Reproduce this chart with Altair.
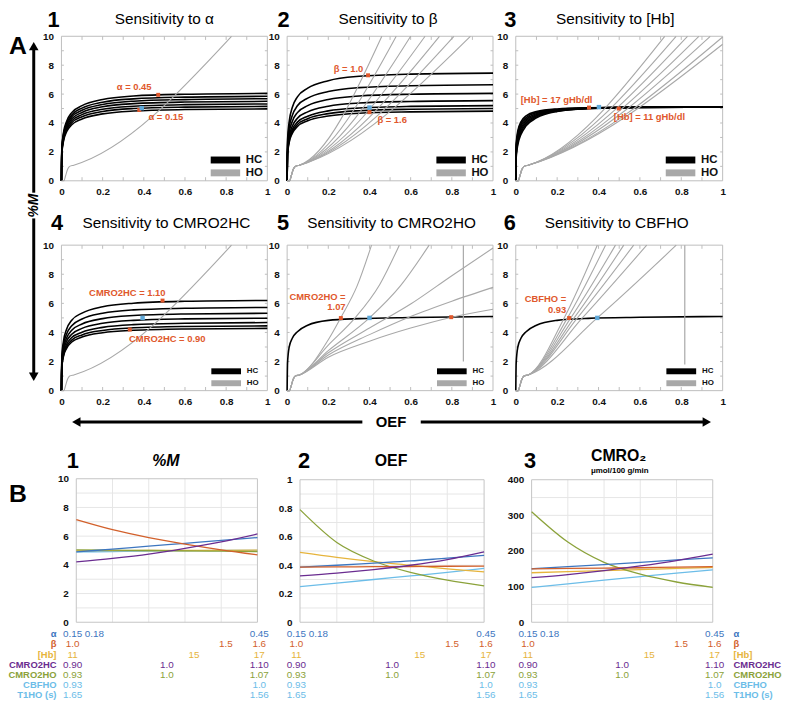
import altair as alt
import pandas as pd

W, H = 785, 697
OX, OY = 8, 8
FONT = "Liberation Sans"
RED = "#e0582c"
BLUE_PT = "#5fa8d8"
BLACK = "#000000"
GRAY = "#a8a8a8"

# ---------------- Panel A data ----------------
HC_X = [0, 0.002, 0.01, 0.025, 0.05, 0.1, 0.2, 0.35, 0.6, 1.0]

P1_HC = [
    [0, 2.30, 3.33, 4.11, 4.72, 5.20, 5.63, 5.87, 5.99, 6.05],
    [0, 2.22, 3.22, 3.98, 4.56, 5.03, 5.44, 5.67, 5.79, 5.85],
    [0, 2.16, 3.12, 3.86, 4.43, 4.88, 5.28, 5.51, 5.62, 5.68],
    [0, 2.09, 3.03, 3.74, 4.29, 4.73, 5.12, 5.34, 5.45, 5.50],
    [0, 2.02, 2.93, 3.62, 4.15, 4.58, 4.95, 5.16, 5.27, 5.32],
    [0, 1.96, 2.83, 3.50, 4.02, 4.43, 4.79, 5.00, 5.10, 5.15],
    [0, 1.89, 2.74, 3.39, 3.88, 4.28, 4.63, 4.83, 4.93, 4.98],
]
P2_HC = [
    [0, 2.83, 4.10, 5.07, 5.81, 6.41, 6.93, 7.23, 7.38, 7.45],
    [0, 2.53, 3.66, 4.52, 5.19, 5.72, 6.18, 6.45, 6.58, 6.65],
    [0, 2.30, 3.33, 4.11, 4.72, 5.20, 5.63, 5.87, 5.99, 6.05],
    [0, 2.11, 3.05, 3.77, 4.33, 4.77, 5.16, 5.38, 5.49, 5.55],
    [0, 1.98, 2.86, 3.54, 4.06, 4.47, 4.84, 5.04, 5.15, 5.20],
    [0, 1.90, 2.75, 3.40, 3.90, 4.30, 4.65, 4.85, 4.95, 5.00],
    [0, 1.83, 2.65, 3.28, 3.76, 4.15, 4.48, 4.68, 4.77, 4.82],
]
P3_HC = [
    [0, 2.55, 3.47, 4.08, 4.49, 4.79, 4.97, 5.05, 5.09, 5.10],
    [0, 2.40, 3.30, 3.93, 4.37, 4.72, 4.94, 5.04, 5.09, 5.10],
    [0, 2.25, 3.14, 3.80, 4.25, 4.65, 4.91, 5.03, 5.09, 5.10],
    [0, 2.10, 2.99, 3.65, 4.14, 4.57, 4.88, 5.02, 5.09, 5.10],
    [0, 1.93, 2.83, 3.50, 4.03, 4.50, 4.85, 5.01, 5.08, 5.10],
    [0, 1.77, 2.66, 3.35, 3.91, 4.42, 4.82, 5.00, 5.08, 5.10],
    [0, 1.60, 2.50, 3.20, 3.80, 4.35, 4.80, 5.00, 5.08, 5.10],
]
P4_HC = [
    [0, 2.36, 3.41, 4.22, 4.84, 5.33, 5.77, 6.01, 6.14, 6.20],
    [0, 2.17, 3.15, 3.89, 4.46, 4.92, 5.32, 5.55, 5.66, 5.72],
    [0, 2.02, 2.93, 3.62, 4.15, 4.58, 4.95, 5.16, 5.27, 5.32],
    [0, 1.89, 2.74, 3.39, 3.88, 4.28, 4.63, 4.83, 4.93, 4.98],
    [0, 1.78, 2.57, 3.18, 3.65, 4.02, 4.35, 4.54, 4.63, 4.68],
    [0, 1.69, 2.45, 3.03, 3.47, 3.83, 4.14, 4.32, 4.41, 4.45],
    [0, 1.63, 2.35, 2.91, 3.34, 3.68, 3.98, 4.15, 4.24, 4.28],
]
P5_HC = [[0, 1.90, 3.00, 3.60, 4.05, 4.50, 4.83, 4.95, 5.03, 5.10]]
P6_HC = [[0, 1.90, 3.00, 3.60, 4.05, 4.50, 4.83, 4.97, 5.04, 5.10]]

HO_START_X = [0, 0.012, 0.02, 0.03, 0.04, 0.06]
HO_START_Y = [0, 0, 0.35, 0.8, 1.0, 1.08]

P1_HO = [([0.826], [10])]
P2_HO = [([0.46], [10]), ([0.53], [10]), ([0.60], [10]), ([0.67], [10]),
         ([0.74], [10]), ([0.81], [10]), ([0.89], [10])]
P3_HO = [([0.72], [10]), ([0.775], [10]), ([0.83], [10]), ([0.885], [10]),
         ([0.94], [10]), ([1.0], [9.95]), ([1.0], [9.45])]
P4_HO = [([0.826], [10])]
P5_HO = [
    ([0.2, 0.26, 0.34, 0.41], [3.5, 5.0, 7.2, 10]),
    ([0.2, 0.33, 0.45, 0.545], [3.13, 5.0, 7.3, 10]),
    ([0.2, 0.4, 0.55, 0.69], [2.75, 5.0, 7.2, 10]),
    ([0.2, 0.4, 0.6, 0.8, 1.0], [2.6, 4.3, 5.95, 7.9, 9.8]),
    ([0.2, 0.4, 0.6, 0.8, 1.0], [2.45, 3.85, 5.1, 6.15, 7.1]),
    ([0.2, 0.4, 0.6, 0.8, 1.0], [2.3, 3.4, 4.3, 5.05, 5.6]),
]
P6_HO = [
    ([0.234, 0.394], [5.0, 10]), ([0.25, 0.434], [5.0, 10]),
    ([0.266, 0.482], [5.0, 10]), ([0.282, 0.522], [5.0, 10]),
    ([0.298, 0.57], [5.0, 10]), ([0.322, 0.633], [5.0, 10]),
    ([0.394, 0.776], [5.0, 10]),
]
P5_VLINE = (0.856, 2.0, 10)
P6_VLINE = (0.817, 1.8, 10)

P1_RED = [(0.47, 5.95), (0.378, 4.9)]
P1_BLUE = [(0.39, 5.03)]
P2_RED = [(0.393, 7.3), (0.4, 4.75)]
P2_BLUE = [(0.4, 5.07)]
P3_RED = [(0.354, 5.07), (0.498, 5.0)]
P3_BLUE = [(0.402, 5.1)]
P4_RED = [(0.491, 6.19), (0.332, 4.2)]
P4_BLUE = [(0.394, 5.0)]
P5_RED = [(0.261, 4.99), (0.797, 5.05)]
P5_BLUE = [(0.4, 5.0)]
P6_RED = [(0.258, 4.99)]
P6_BLUE = [(0.394, 5.0)]

# labels: (text, x, y, align)
P1_LAB = [("α = 0.45", 0.353, 6.46, "center"), ("α = 0.15", 0.507, 4.4, "center")]
P2_LAB = [("β = 1.0", 0.298, 7.76, "center"), ("β = 1.6", 0.51, 4.22, "center")]
P3_LAB = [("[Hb] = 17 gHb/dl", 0.024, 5.57, "left"), ("[Hb] = 11 gHb/dl", 0.474, 4.43, "left")]
P4_LAB = [("CMRO2HC = 1.10", 0.32, 6.69, "center"), ("CMRO2HC = 0.90", 0.514, 3.56, "center")]
P5_LAB = [("CMRO2HO =", 0.284, 6.42, "right"), ("1.07", 0.284, 5.74, "right")]
P6_LAB = [("CBFHO =", 0.244, 6.3, "right"), ("0.93", 0.244, 5.56, "right")]

# legend keys (HC / HO) and their slots in each panel's own data units
LEG_KEYS = ["HC", "HO"]
LEG_ROW1 = dict(x=0.725, x2=0.868, tx=0.895, ys=[1.44, 0.55], w=7, fs=11.5)
LEG_ROW2 = dict(x=0.728, x2=0.872, tx=0.9, ys=[1.33, 0.51], w=6, fs=8)

# ---------------- Panel B data ----------------
B_X = [0, 0.2, 0.4, 0.6, 0.8, 1.0]
PARAMS = ["α", "β", "[Hb]", "CMRO2HC", "CMRO2HO", "CBFHO"]
PARAM_COLORS = ["#3d76c0", "#d2602b", "#e6b43c", "#6a2c90", "#8ba23a", "#6cbde8"]

M_ALPHA = [4.9, 5.1, 5.3, 5.5, 5.7, 5.9]
M_BETA = [7.15, 6.45, 5.9, 5.45, 5.05, 4.7]
M_HB = [4.98, 4.99, 5.0, 5.0, 5.01, 5.02]
M_CHC = [4.2, 4.45, 4.75, 5.15, 5.6, 6.15]
M_CHO = [5.05, 5.03, 5.0, 4.98, 4.95, 4.92]
M_CBF = [4.9, 4.93, 4.96, 4.98, 5.0, 5.0]

OEF_ALPHA = [0.387, 0.40, 0.415, 0.43, 0.45, 0.469]
OEF_BETA = [0.387, 0.388, 0.39, 0.391, 0.393, 0.394]
OEF_HB = [0.49, 0.455, 0.425, 0.4, 0.375, 0.353]
OEF_CHC = [0.325, 0.345, 0.37, 0.40, 0.44, 0.494]
OEF_CHO = [0.79, 0.56, 0.43, 0.35, 0.295, 0.255]
OEF_CBF = [0.25, 0.275, 0.30, 0.325, 0.35, 0.378]

CM_ALPHA = [150, 156, 162, 168, 175, 181]
CM_BETA = [150, 151, 152, 153, 155, 156]
CM_HB = [139, 142, 145, 148, 151, 154]
CM_CHC = [125, 134, 145, 158, 173, 191]
CM_CHO = [310, 225, 168, 135, 113, 98]
CM_CBF = [98, 108, 118, 128, 138, 147]

ROW_LABELS = ["α", "β", "[Hb]", "CMRO2HC", "CMRO2HO", "CBFHO", "T1HO (s)"]
ROW_COLORS = ["#3d76c0", "#d2602b", "#e6b43c", "#6a2c90", "#8ba23a", "#6cbde8", "#6cbde8"]
TAB_ALPHA = (["0.15", "0.18", "0.45"], [-0.02, 0.1, 1.01])
TAB_BETA = (["1.0", "1.5", "1.6"], [-0.02, 0.826, 1.01])
TAB_HB = (["11", "15", "17"], [-0.02, 0.65, 1.01])
TAB_CHC = (["0.90", "1.0", "1.10"], [-0.02, 0.5, 1.01])
TAB_CHO = (["0.93", "1.0", "1.07"], [-0.02, 0.5, 1.01])
TAB_CBF = (["0.93", "1.0"], [-0.02, 1.01])
TAB_T1 = (["1.65", "1.56"], [-0.02, 1.01])

# ---------------- layout (page pixel boxes: x0, x1, ytop, ybottom) ----------------
TOP_BOX = {1: (62, 270, 33, 179), 2: (290, 498, 33, 179), 3: (521, 730, 33, 179),
           4: (62, 270, 244, 391), 5: (290, 498, 244, 391), 6: (521, 730, 244, 391)}
B_BOX = {1: (77, 260, 480, 625), 2: (303, 489, 481, 625), 3: (537, 720, 481, 625)}
TABLE_Y = (637, 699)

XT = [0, 0.2, 0.4, 0.6, 0.8, 1]
YT = [0, 2, 4, 6, 8, 10]
TICK_X = [0.1, 0.2, 0.3, 0.4, 0.5, 0.6, 0.7, 0.8, 0.9]
TICK_Y = [1, 2, 3, 4, 5, 6, 7, 8, 9]

AXBASE = dict(domain=False, ticks=False, grid=False, title=None, labelFont=FONT,
              labelFontSize=10, labelFontWeight="bold", labelColor="#111111",
              labelFlush=False, labelOverlap=False)


def top_panel(box, hc, ho, reds, blues, labs, legslot, vline=None):
    x0, x1, yt, yb = box
    xsc = alt.Scale(domain=[0, 1], range=[x0 - OX, x1 - OX], nice=False, zero=False)
    ysc = alt.Scale(domain=[0, 10], range=[yb - OY, yt - OY], nice=False, zero=False)
    xax = alt.Axis(orient="bottom", offset=(yb - OY) - H, values=XT, format="~g",
                   labelPadding=6, **AXBASE)
    yax = alt.Axis(orient="left", offset=-(x0 - OX), values=YT, format="d",
                   labelPadding=8, **AXBASE)

    def X(f):
        return alt.X(f, scale=xsc, axis=xax)

    def Y(f):
        return alt.Y(f, scale=ysc, axis=yax)

    frame = alt.Chart(pd.DataFrame({"x": [0], "x2": [1], "y": [0], "y2": [10]})).mark_rect(
        fillOpacity=0, stroke="#bdbdbd", strokeWidth=1).encode(
        x=X("x:Q"), x2="x2:Q", y=Y("y:Q"), y2="y2:Q")

    trows = []
    for t in TICK_X:
        trows.append(dict(x=t, x2=t, y=0, y2=0.25))
        trows.append(dict(x=t, x2=t, y=9.75, y2=10))
    for t in TICK_Y:
        trows.append(dict(x=0, x2=0.012, y=t, y2=t))
        trows.append(dict(x=0.988, x2=1, y=t, y2=t))
    ticks = alt.Chart(pd.DataFrame(trows)).mark_rule(color="#bdbdbd", strokeWidth=1).encode(
        x=X("x:Q"), x2="x2:Q", y=Y("y:Q"), y2="y2:Q")

    cs = alt.Scale(domain=LEG_KEYS, range=[BLACK, GRAY])

    hrows = []
    for i, ys in enumerate(hc):
        for xv, yv in zip(HC_X, ys):
            hrows.append(dict(curve=f"hc{i}", type="HC", x=xv, y=yv))
    orows = []
    for j, (tx, ty) in enumerate(ho):
        for xv, yv in zip(HO_START_X + list(tx), HO_START_Y + list(ty)):
            orows.append(dict(curve=f"ho{j}", type="HO", x=xv, y=yv))

    hc_layer = alt.Chart(pd.DataFrame(hrows)).mark_line(strokeWidth=1.6, interpolate="monotone").encode(
        x=X("x:Q"), y=Y("y:Q"), detail="curve:N",
        color=alt.Color("type:N", scale=cs, legend=None))
    ho_layer = alt.Chart(pd.DataFrame(orows)).mark_line(strokeWidth=1.1, interpolate="monotone").encode(
        x=X("x:Q"), y=Y("y:Q"), detail="curve:N",
        color=alt.Color("type:N", scale=cs, legend=None))

    layers = [frame, ticks, hc_layer, ho_layer]
    if vline is not None:
        vx, vy0, vy1 = vline
        layers.append(alt.Chart(pd.DataFrame({"x": [vx], "y": [vy0], "y2": [vy1]})).mark_rule(
            color=GRAY, strokeWidth=1.2).encode(x=X("x:Q"), y=Y("y:Q"), y2="y2:Q"))

    # legend (key swatches + labels), coloured through the same colour scale
    lg = pd.DataFrame({"type": LEG_KEYS, "x": [legslot["x"]] * 2, "x2": [legslot["x2"]] * 2,
                       "tx": [legslot["tx"]] * 2, "y": legslot["ys"]})
    layers.append(alt.Chart(lg).mark_rule(strokeWidth=legslot["w"], strokeCap="butt").encode(
        x=X("x:Q"), x2="x2:Q", y=Y("y:Q"),
        color=alt.Color("type:N", scale=cs, legend=None)))
    layers.append(alt.Chart(lg).mark_text(font=FONT, fontSize=legslot["fs"], fontWeight="bold",
                                          align="left", baseline="middle", color="#111111").encode(
        x=X("tx:Q"), y=Y("y:Q"), text="type:N"))

    layers.append(alt.Chart(pd.DataFrame(reds, columns=["x", "y"])).mark_point(
        filled=True, size=16, shape="square", color=RED, opacity=1).encode(x=X("x:Q"), y=Y("y:Q")))
    layers.append(alt.Chart(pd.DataFrame(blues, columns=["x", "y"])).mark_point(
        filled=True, size=20, shape="square", color=BLUE_PT, opacity=1).encode(x=X("x:Q"), y=Y("y:Q")))
    ldf = pd.DataFrame(labs, columns=["t", "x", "y", "a"])
    for al in ["left", "center", "right"]:
        sub = ldf[ldf.a == al]
        if len(sub):
            layers.append(alt.Chart(sub).mark_text(
                font=FONT, fontSize=9.5, fontWeight="bold", color=RED, align=al, baseline="middle").encode(
                x=X("x:Q"), y=Y("y:Q"), text="t:N"))
    return alt.layer(*layers)


def b_panel(box, ydom, yvals, ygrid, fmt, series):
    x0, x1, yt, yb = box
    xsc = alt.Scale(domain=[0, 1], range=[x0 - OX, x1 - OX], nice=False, zero=False)
    ysc = alt.Scale(domain=ydom, range=[yb - OY, yt - OY], nice=False, zero=False)
    yax = alt.Axis(orient="left", offset=-(x0 - OX), values=yvals, format=fmt,
                   labelPadding=8, **AXBASE)

    def X(f):
        return alt.X(f, scale=xsc, axis=None)

    def Y(f):
        return alt.Y(f, scale=ysc, axis=yax)

    grows = []
    for g in [0.2, 0.4, 0.6, 0.8]:
        grows.append(dict(x=g, x2=g, y=ydom[0], y2=ydom[1]))
    for g in ygrid:
        grows.append(dict(x=0, x2=1, y=g, y2=g))
    grid = alt.Chart(pd.DataFrame(grows)).mark_rule(color="#e6e6e6", strokeWidth=1).encode(
        x=X("x:Q"), x2="x2:Q", y=Y("y:Q"), y2="y2:Q")
    frame = alt.Chart(pd.DataFrame({"x": [0], "x2": [1], "y": [ydom[0]], "y2": [ydom[1]]})).mark_rect(
        fillOpacity=0, stroke="#c4c4c4", strokeWidth=1).encode(
        x=X("x:Q"), x2="x2:Q", y=Y("y:Q"), y2="y2:Q")
    rows = []
    for p, vals in series:
        for xv, yv in zip(B_X, vals):
            rows.append(dict(p=p, x=xv, y=yv))
    lines = alt.Chart(pd.DataFrame(rows)).mark_line(strokeWidth=1.3, interpolate="monotone").encode(
        x=X("x:Q"), y=Y("y:Q"),
        color=alt.Color("p:N", scale=alt.Scale(domain=PARAMS, range=PARAM_COLORS), legend=None))
    return alt.layer(grid, frame, lines)


def row_scale():
    return alt.Scale(type="point", domain=ROW_LABELS,
                     range=[TABLE_Y[0] - OY, TABLE_Y[1] - OY], padding=0)


def b_table(box):
    x0, x1, yt, yb = box
    xsc = alt.Scale(domain=[0, 1], range=[x0 - OX, x1 - OX], nice=False, zero=False)
    rows = []
    for lab, (texts, poss) in zip(ROW_LABELS, [TAB_ALPHA, TAB_BETA, TAB_HB, TAB_CHC, TAB_CHO, TAB_CBF, TAB_T1]):
        for t, p in zip(texts, poss):
            rows.append(dict(r=lab, t=t, x=p))
    return alt.Chart(pd.DataFrame(rows)).mark_text(font=FONT, fontSize=10, baseline="middle").encode(
        x=alt.X("x:Q", scale=xsc, axis=None),
        y=alt.Y("r:N", scale=row_scale(), axis=None),
        text="t:N",
        color=alt.Color("r:N", scale=alt.Scale(domain=ROW_LABELS, range=ROW_COLORS), legend=None))


def row_labels(xpage, align):
    df = pd.DataFrame({"r": ROW_LABELS})
    return alt.Chart(df).mark_text(font=FONT, fontSize=9.5, fontWeight="bold", align=align,
                                   baseline="middle").encode(
        x=alt.value(xpage - OX),
        y=alt.Y("r:N", scale=row_scale(), axis=None),
        text="r:N",
        color=alt.Color("r:N", scale=alt.Scale(domain=ROW_LABELS, range=ROW_COLORS), legend=None))


def ann(rows, **kw):
    df = pd.DataFrame([(t, x - OX, y - OY) for t, x, y in rows], columns=["t", "x", "y"])
    return alt.Chart(df).mark_text(font=FONT, baseline="middle", **kw).encode(
        x=alt.X("x:Q", scale=None, axis=None), y=alt.Y("y:Q", scale=None, axis=None), text="t:N")


def segs(rows, **kw):
    df = pd.DataFrame([(a - OX, b - OY, c - OX, d - OY) for a, b, c, d in rows],
                      columns=["x", "y", "x2", "y2"])
    return alt.Chart(df).mark_rule(**kw).encode(
        x=alt.X("x:Q", scale=None, axis=None), y=alt.Y("y:Q", scale=None, axis=None),
        x2="x2:Q", y2="y2:Q")


def heads(rows):
    df = pd.DataFrame([(s, x - OX, y - OY) for s, x, y in rows], columns=["s", "x", "y"])
    return alt.Chart(df).mark_point(filled=True, size=95, color=BLACK, opacity=1).encode(
        x=alt.X("x:Q", scale=None, axis=None), y=alt.Y("y:Q", scale=None, axis=None),
        shape=alt.Shape("s:N", scale=None))


panels = [
    top_panel(TOP_BOX[1], P1_HC, P1_HO, P1_RED, P1_BLUE, P1_LAB, LEG_ROW1),
    top_panel(TOP_BOX[2], P2_HC, P2_HO, P2_RED, P2_BLUE, P2_LAB, LEG_ROW1),
    top_panel(TOP_BOX[3], P3_HC, P3_HO, P3_RED, P3_BLUE, P3_LAB, LEG_ROW1),
    top_panel(TOP_BOX[4], P4_HC, P4_HO, P4_RED, P4_BLUE, P4_LAB, LEG_ROW2),
    top_panel(TOP_BOX[5], P5_HC, P5_HO, P5_RED, P5_BLUE, P5_LAB, LEG_ROW2, P5_VLINE),
    top_panel(TOP_BOX[6], P6_HC, P6_HO, P6_RED, P6_BLUE, P6_LAB, LEG_ROW2, P6_VLINE),
    b_panel(B_BOX[1], [0, 10], [0, 2, 4, 6, 8, 10], [1, 2, 3, 4, 5, 6, 7, 8, 9], "d",
            [("CBFHO", M_CBF), ("[Hb]", M_HB), ("CMRO2HO", M_CHO), ("α", M_ALPHA),
             ("β", M_BETA), ("CMRO2HC", M_CHC)]),
    b_panel(B_BOX[2], [0, 1], [0, 0.2, 0.4, 0.6, 0.8, 1], [0.1, 0.2, 0.3, 0.4, 0.5, 0.6, 0.7, 0.8, 0.9], "~g",
            [("CBFHO", OEF_CBF), ("[Hb]", OEF_HB), ("CMRO2HO", OEF_CHO), ("α", OEF_ALPHA),
             ("β", OEF_BETA), ("CMRO2HC", OEF_CHC)]),
    b_panel(B_BOX[3], [0, 400], [0, 100, 200, 300, 400], [50, 100, 150, 200, 250, 300, 350], "d",
            [("CBFHO", CM_CBF), ("[Hb]", CM_HB), ("CMRO2HO", CM_CHO), ("α", CM_ALPHA),
             ("β", CM_BETA), ("CMRO2HC", CM_CHC)]),
    b_table(B_BOX[1]), b_table(B_BOX[2]), b_table(B_BOX[3]),
    row_labels(57, "right"), row_labels(741, "left"),
]

annotations = [
    ann([("1", 54, 17), ("2", 286.5, 17), ("3", 515.5, 17),
         ("4", 57.5, 222), ("5", 286, 222), ("6", 515, 222),
         ("1", 73.5, 462), ("2", 307, 462), ("3", 535.5, 462)],
        fontSize=22, fontWeight="bold", align="center", color=BLACK),
    ann([("Sensitivity to α", 166, 16), ("Sensitivity to β", 392, 16), ("Sensitivity to [Hb]", 621.5, 16),
         ("Sensitivity to CMRO2HC", 168, 222), ("Sensitivity to CMRO2HO", 395.5, 222),
         ("Sensitivity to CBFHO", 623, 222)],
        fontSize=15.5, align="center", color=BLACK),
    ann([("A", 18, 43), ("B", 18, 496)], fontSize=25, fontWeight="bold", align="center", color=BLACK),
    ann([("OEF", 395, 462), ("CMRO₂", 625, 457)], fontSize=16, fontWeight="bold", align="center", color=BLACK),
    ann([("%M", 167.5, 462)], fontSize=16, fontWeight="bold", fontStyle="italic", align="center", color=BLACK),
    ann([("μmol/100 g/min", 626, 472)], fontSize=8, fontWeight="bold", align="center", color=BLACK),
    ann([("OEF", 395, 422.5)], fontSize=15, fontWeight="bold", align="center", color=BLACK),
    ann([("%M", 34, 204)], fontSize=14, fontWeight="bold", fontStyle="italic", align="center",
        angle=270, color=BLACK),
    segs([(34, 46, 34, 191), (34, 217, 34, 374), (80, 422.7, 366, 422.7), (425, 422.7, 712, 422.7)],
         color=BLACK, strokeWidth=3),
    heads([("triangle-up", 34, 43), ("triangle-down", 34, 377),
           ("triangle-left", 77, 422.7), ("triangle-right", 714, 422.7)]),
]

chart = alt.layer(*panels, *annotations).resolve_scale(
    x="independent", y="independent", color="independent", shape="independent"
).resolve_axis(x="independent", y="independent").properties(
    width=W, height=H, autosize=alt.AutoSizeParams(type="none"), padding=0
).configure_view(stroke=None)

chart.save("out.html", embed_options={"renderer": "svg", "actions": False})
